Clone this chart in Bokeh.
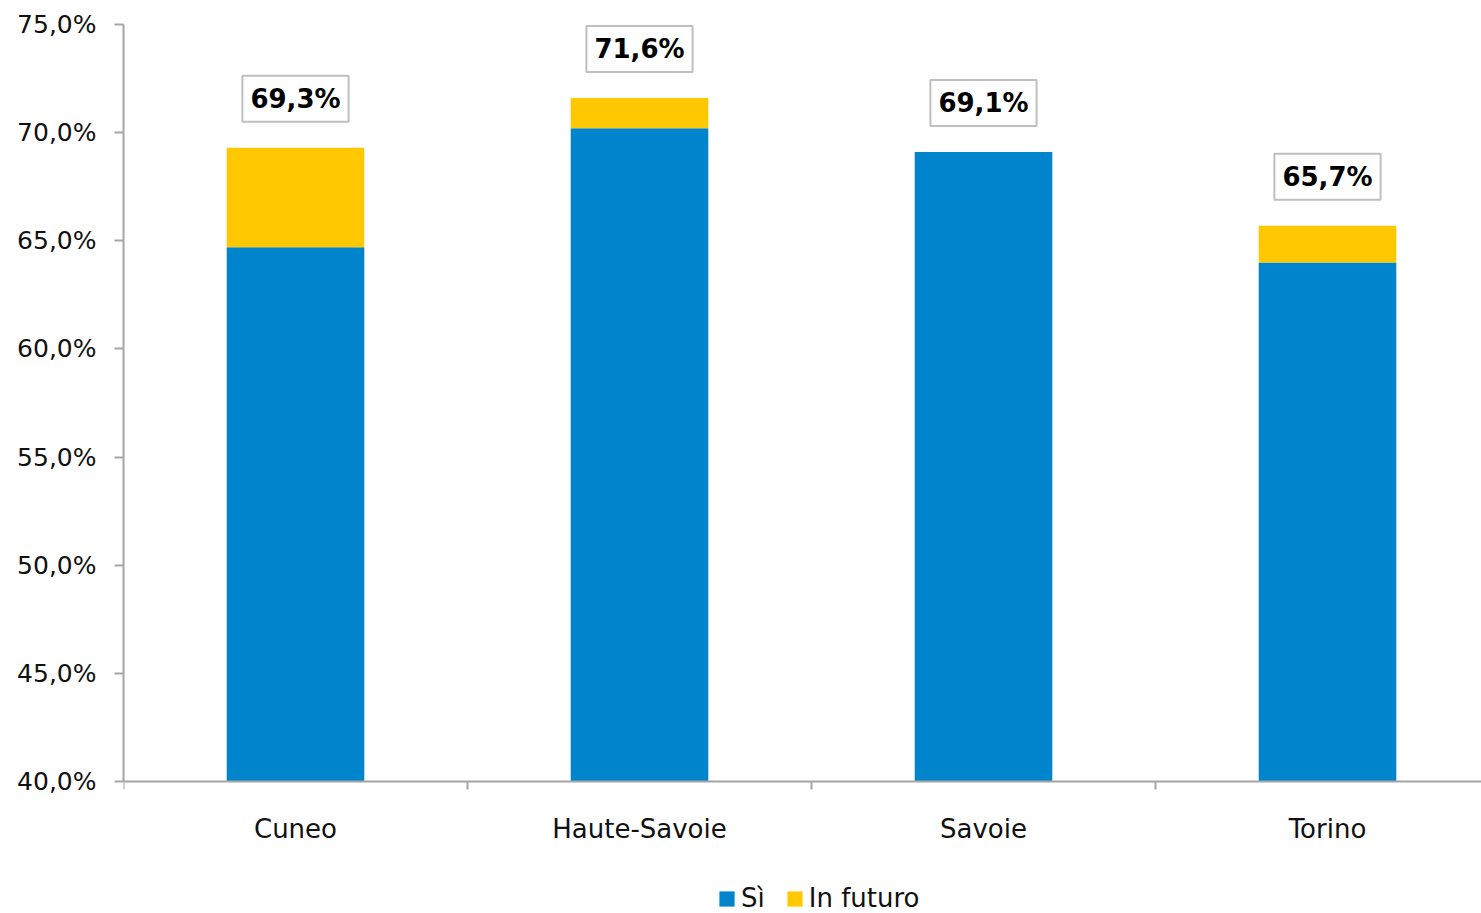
from bokeh.plotting import figure
from bokeh.models import FixedTicker, Label, Legend, LegendItem, Range1d, ColumnDataSource
from bokeh.embed import file_html
from bokeh.resources import INLINE

categories = ["Cuneo", "Haute-Savoie", "Savoie", "Torino"]
si = [64.7, 70.2, 69.1, 64.0]
in_futuro = [4.6, 1.4, 0.0, 1.7]
totals = [69.3, 71.6, 69.1, 65.7]
y_ticks = [40, 45, 50, 55, 60, 65, 70, 75]

BLUE = "#0084CC"
YELLOW = "#FFC800"
AXIS = "#A6A6A6"
TEXT = "#111111"
FONT = "DejaVu Sans"

n = len(categories)
centers = [i + 0.5 for i in range(n)]
top_y = [s + f for s, f in zip(si, in_futuro)]
y_min, y_max = y_ticks[0], y_ticks[-1]

src = ColumnDataSource(dict(x=centers, si=si, top=top_y, base=[y_min] * n))

# frame spans to the bottom of the canvas; the value axis stops at 40 %
px_per_unit = (781 - 24) / (y_max - y_min)
y_start = y_min - (913 - 781) / px_per_unit

p = figure(width=1481, height=913, output_backend="svg", toolbar_location=None,
           x_range=Range1d(0, 1358 / 344), y_range=Range1d(y_start, y_max),
           min_border_left=123, min_border_right=0, min_border_top=24, min_border_bottom=0)
p.outline_line_color = None
p.grid.visible = False
p.background_fill_color = "white"
p.border_fill_color = "white"

r1 = p.vbar(x="x", bottom="base", top="si", width=0.4, source=src, fill_color=BLUE, line_color=None)
r2 = p.vbar(x="x", bottom="si", top="top", width=0.4, source=src, fill_color=YELLOW, line_color=None)

# y axis
p.yaxis.ticker = FixedTicker(ticks=y_ticks, minor_ticks=[])
p.yaxis.bounds = (y_min, y_max)
p.yaxis.major_label_overrides = {t: f"{t:.1f}".replace(".", ",") + "%" for t in y_ticks}
p.yaxis.axis_line_color = AXIS
p.yaxis.axis_line_width = 2
p.yaxis.major_tick_line_color = AXIS
p.yaxis.major_tick_line_width = 2
p.yaxis.major_tick_out = 9
p.yaxis.major_tick_in = 0
p.yaxis.major_label_text_font = FONT
p.yaxis.major_label_text_font_size = "25px"
p.yaxis.major_label_text_color = TEXT
p.yaxis.major_label_standoff = 18

# x axis, placed at 40 %
p.xaxis.fixed_location = y_min
p.xaxis.ticker = FixedTicker(ticks=centers, minor_ticks=[float(i) for i in range(n)])
p.xaxis.major_label_overrides = {c: lab for c, lab in zip(centers, categories)}
p.xaxis.axis_line_color = AXIS
p.xaxis.axis_line_width = 2
p.xaxis.major_tick_out = 0
p.xaxis.major_tick_in = 0
p.xaxis.minor_tick_line_color = AXIS
p.xaxis.minor_tick_line_width = 2
p.xaxis.minor_tick_out = 8
p.xaxis.minor_tick_in = 0
p.xaxis.major_label_text_font = FONT
p.xaxis.major_label_text_font_size = "26px"
p.xaxis.major_label_text_color = TEXT
p.xaxis.major_label_standoff = 24

# data labels
for c, t in zip(centers, totals):
    p.add_layout(Label(x=c, y=t, y_offset=49, text=f"{t:.1f}".replace(".", ",") + "%",
                       text_align="center", text_baseline="middle",
                       text_font=FONT, text_font_size="26px", text_font_style="bold",
                       text_color="black", background_fill_color="white",
                       border_line_color="#BFBFBF", border_line_width=2, padding=8))

legend = Legend(items=[LegendItem(label="Sì", renderers=[r1]),
                       LegendItem(label="In futuro", renderers=[r2])],
                orientation="horizontal", location=(594, 0),
                label_text_font=FONT, label_text_font_size="26px", label_text_color=TEXT,
                glyph_width=19, glyph_height=19, label_standoff=5, spacing=20,
                padding=0, margin=0, border_line_color=None, background_fill_alpha=0,
                label_height=26)
p.add_layout(legend, "center")

open("out.html", "w").write(file_html(p, INLINE))
